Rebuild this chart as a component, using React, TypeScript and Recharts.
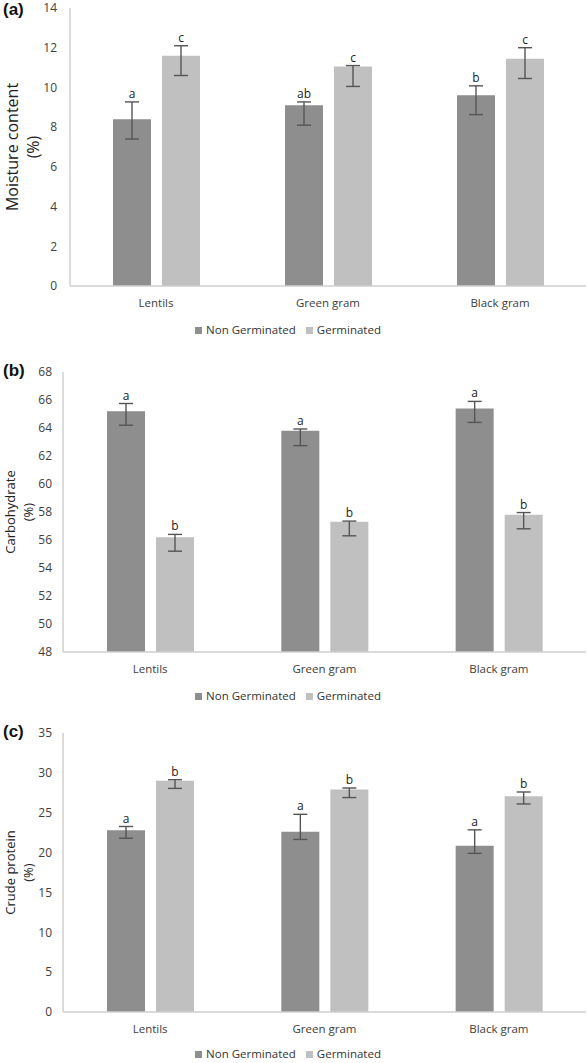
import { BarChart, Bar, XAxis, YAxis, Legend, ErrorBar, LabelList } from "recharts";

const CATEGORIES = ["Lentils", "Green gram", "Black gram"];
const SERIES_ORDER = ["Non Germinated", "Germinated"];

// (a) moisture content, % — error bars are [minus, plus]
const MOISTURE_NG = [8.4, 9.1, 9.6];
const MOISTURE_G = [11.6, 11.05, 11.45];
const MOISTURE_NG_ERR = [[1.0, 0.87], [1.0, 0.17], [0.97, 0.48]];
const MOISTURE_G_ERR = [[1.0, 0.5], [1.0, 0.05], [1.0, 0.55]];
const MOISTURE_NG_SIG = ["a", "ab", "b"];
const MOISTURE_G_SIG = ["c", "c", "c"];
const MOISTURE_TICKS = [0, 2, 4, 6, 8, 10, 12, 14];

// (b) carbohydrate, %
const CARB_NG = [65.2, 63.8, 65.4];
const CARB_G = [56.2, 57.3, 57.8];
const CARB_NG_ERR = [[1.0, 0.55], [1.06, 0.13], [1.0, 0.5]];
const CARB_G_ERR = [[1.0, 0.2], [1.0, 0.05], [1.0, 0.16]];
const CARB_NG_SIG = ["a", "a", "a"];
const CARB_G_SIG = ["b", "b", "b"];
const CARB_TICKS = [48, 50, 52, 54, 56, 58, 60, 62, 64, 66, 68];

// (c) crude protein, %
const PROTEIN_NG = [22.8, 22.6, 20.85];
const PROTEIN_G = [29.0, 27.9, 27.05];
const PROTEIN_NG_ERR = [[1.0, 0.47], [0.95, 2.2], [0.95, 2.0]];
const PROTEIN_G_ERR = [[0.95, 0.14], [1.0, 0.2], [0.95, 0.55]];
const PROTEIN_NG_SIG = ["a", "a", "a"];
const PROTEIN_G_SIG = ["b", "b", "b"];
const PROTEIN_TICKS = [0, 5, 10, 15, 20, 25, 30, 35];

const NG_COLOR = "#8e8e8e";
const G_COLOR = "#c0c0c0";
const BORDER = "#cfcfcf";
const FONT = "'Open Sans', sans-serif";

function buildRows(ng: number[], g: number[], ngErr: number[][], gErr: number[][]) {
  return CATEGORIES.map((name, i) => ({ name, ng: ng[i], g: g[i], ngErr: ngErr[i], gErr: gErr[i] }));
}

// letter sits just above the top of the error bar
const sigLabel = (letters: string[], errs: number[][], floor: number) => (props: any) => {
  const { x, y, width, height, value, index } = props;
  const px = height / (value - floor);
  const top = y - errs[index][1] * px;
  return (
    <text x={x + width / 2} y={top - 4} textAnchor="middle" fontSize={12} fill="#222" fontFamily={FONT}>
      {letters[index]}
    </text>
  );
};

const yTitle = (lines: string[], fontSize: number, xs: number[]) => (props: any) => {
  const vb = props.viewBox;
  const cy = vb.y + vb.height / 2;
  return (
    <g>
      {lines.map((l, i) => (
        <text
          key={l}
          x={xs[i]}
          y={cy}
          transform={`rotate(-90 ${xs[i]} ${cy})`}
          textAnchor="middle"
          dominantBaseline="central"
          fontSize={fontSize}
          fill="#222"
          fontFamily={FONT}
        >
          {l}
        </text>
      ))}
    </g>
  );
};

interface PanelProps {
  tag: string;
  top: number;
  height: number;
  plotTop: number;
  plotBottom: number;
  yWidth: number;
  tickGap: number;
  ticks: number[];
  rows: any[];
  ngSig: string[];
  gSig: string[];
  ngErr: number[][];
  gErr: number[][];
  titleLines: string[];
  titleSize: number;
  titleXs: number[];
  legendTop: number;
  tagTop: number;
}

function Panel(p: PanelProps) {
  const domain = [p.ticks[0], p.ticks[p.ticks.length - 1]];
  const xHeight = 30;
  return (
    <div style={{ position: "absolute", left: 0, top: p.top, width: 587, height: p.height }}>
      <div
        style={{
          position: "absolute",
          left: 3,
          top: p.tagTop,
          fontFamily: "'Liberation Sans', Arial, sans-serif",
          fontWeight: "bold",
          fontSize: 17,
          color: "#111",
          zIndex: 2,
        }}
      >
        {p.tag}
      </div>
      <BarChart
        width={587}
        height={p.height}
        data={p.rows}
        margin={{ top: p.plotTop, right: 1, left: 0, bottom: p.height - p.plotBottom - xHeight }}
        barSize={38}
        barGap={11}
      >
        <XAxis
          dataKey="name"
          height={xHeight}
          tickLine={false}
          tickMargin={7}
          axisLine={{ stroke: BORDER, strokeWidth: 1.5 }}
          tick={{ fill: "#404040", fontSize: 11.5, fontFamily: FONT }}
        />
        <XAxis xAxisId="top" dataKey="name" orientation="top" height={0} tick={false} tickLine={false} axisLine={{ stroke: BORDER, strokeWidth: 1.5 }} />
        <YAxis
          width={p.yWidth}
          domain={domain}
          ticks={p.ticks}
          interval={0}
          tickLine={false}
          tickMargin={p.tickGap - 6}
          axisLine={{ stroke: BORDER, strokeWidth: 1.5 }}
          tick={{ fill: "#404040", fontSize: 12, fontFamily: FONT }}
          label={{ content: yTitle(p.titleLines, p.titleSize, p.titleXs) }}
        />
        <YAxis yAxisId="right" orientation="right" width={0} domain={domain} tick={false} tickLine={false} axisLine={{ stroke: BORDER, strokeWidth: 1.5 }} />
        <Legend
          layout="horizontal"
          verticalAlign="middle"
          align="center"
          iconType="square"
          iconSize={7}
          itemSorter={(item: any) => SERIES_ORDER.indexOf(item.value)}
          wrapperStyle={{ top: p.legendTop, fontFamily: FONT, fontSize: 11.5 }}
          formatter={(v: string) => <span style={{ color: "#333" }}>{v}</span>}
        />
        <Bar dataKey="ng" name="Non Germinated" fill={NG_COLOR} isAnimationActive={false}>
          <ErrorBar dataKey="ngErr" width={7} stroke="#555" strokeWidth={1.4} isAnimationActive={false} />
          <LabelList dataKey="ng" content={sigLabel(p.ngSig, p.ngErr, domain[0])} />
        </Bar>
        <Bar dataKey="g" name="Germinated" fill={G_COLOR} isAnimationActive={false}>
          <ErrorBar dataKey="gErr" width={7} stroke="#555" strokeWidth={1.4} isAnimationActive={false} />
          <LabelList dataKey="g" content={sigLabel(p.gSig, p.gErr, domain[0])} />
        </Bar>
      </BarChart>
    </div>
  );
}

export default function App() {
  return (
    <div style={{ position: "absolute", left: 0, top: 0, width: 587, height: 1063, background: "#fff" }}>
      <Panel
        tag="(a)"
        top={0}
        height={345}
        plotTop={8}
        plotBottom={286}
        yWidth={70}
        tickGap={13}
        ticks={MOISTURE_TICKS}
        rows={buildRows(MOISTURE_NG, MOISTURE_G, MOISTURE_NG_ERR, MOISTURE_G_ERR)}
        ngSig={MOISTURE_NG_SIG}
        gSig={MOISTURE_G_SIG}
        ngErr={MOISTURE_NG_ERR}
        gErr={MOISTURE_G_ERR}
        titleLines={["Moisture content", "(%)"]}
        titleSize={16}
        titleXs={[12, 33]}
        legendTop={322}
        tagTop={0}
      />
      <Panel
        tag="(b)"
        top={345}
        height={360}
        plotTop={27}
        plotBottom={307}
        yWidth={63}
        tickGap={11}
        ticks={CARB_TICKS}
        rows={buildRows(CARB_NG, CARB_G, CARB_NG_ERR, CARB_G_ERR)}
        ngSig={CARB_NG_SIG}
        gSig={CARB_G_SIG}
        ngErr={CARB_NG_ERR}
        gErr={CARB_G_ERR}
        titleLines={["Carbohydrate", "(%)"]}
        titleSize={13}
        titleXs={[10, 28]}
        legendTop={343}
        tagTop={16}
      />
      <Panel
        tag="(c)"
        top={705}
        height={358}
        plotTop={28}
        plotBottom={307}
        yWidth={63}
        tickGap={11}
        ticks={PROTEIN_TICKS}
        rows={buildRows(PROTEIN_NG, PROTEIN_G, PROTEIN_NG_ERR, PROTEIN_G_ERR)}
        ngSig={PROTEIN_NG_SIG}
        gSig={PROTEIN_G_SIG}
        ngErr={PROTEIN_NG_ERR}
        gErr={PROTEIN_G_ERR}
        titleLines={["Crude protein", "(%)"]}
        titleSize={13}
        titleXs={[10, 28]}
        legendTop={341}
        tagTop={17}
      />
    </div>
  );
}
